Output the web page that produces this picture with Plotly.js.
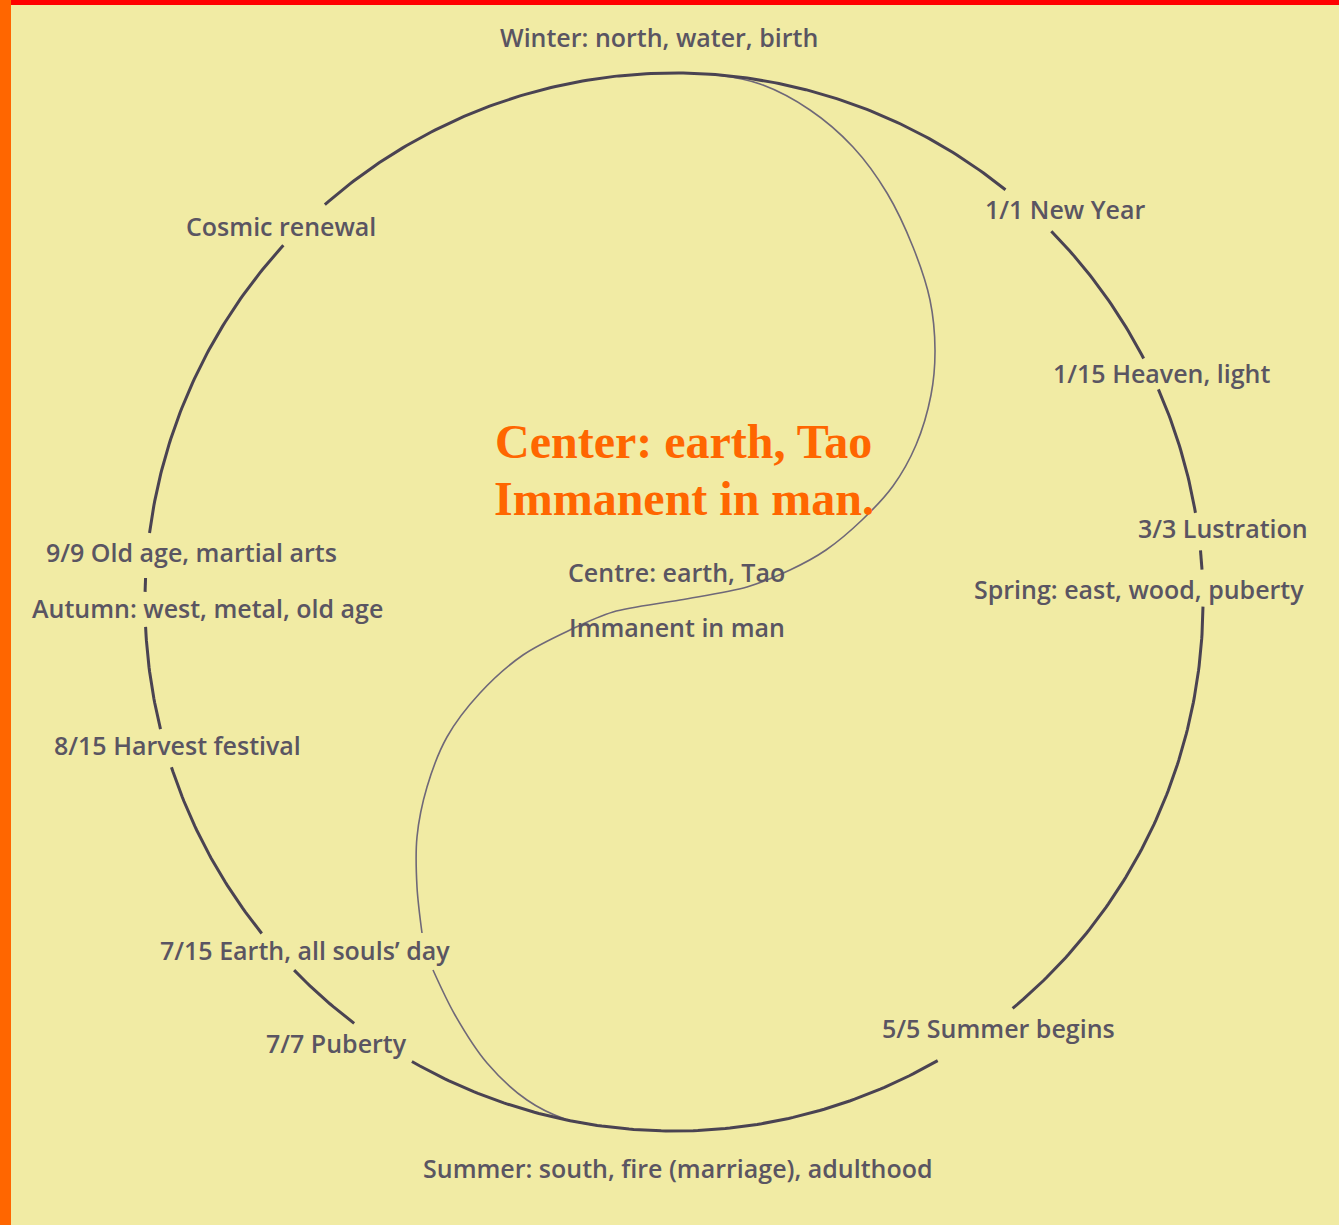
<!DOCTYPE html>
<html>
<head>
<meta charset="utf-8">
<script src="https://cdn.plot.ly/plotly-3.0.1.min.js"></script>
<style>html,body{margin:0;padding:0;background:#f1eba4;overflow:hidden}</style>
</head>
<body>
<div id="chart" style="width:1344px;height:1225px"></div>
<script>
// ---- DATA ----
// Segments of the outer ring: start/end angle in degrees (0 = east, 90 = north)
const arcStartDeg = [51.2, 44.5, 23.7, 5.6, -0.5, -60.1, -127.2, 218.8, 193.9, 178.9, 172.5];
const arcEndDeg   = [131.3, 27.4, 9.7, 3.5, -50.2, -119.7, -135.9, 198.2, 182.7, 177.4, 137.6];

// Inner S-curve (yin-yang divider), two pieces split by the label "day"
const sCurveUpperX = [695, 717, 760, 810, 853, 887, 913, 930, 935, 931, 916, 893, 862, 826, 790, 747, 680, 613, 570, 523, 480, 447, 427, 417, 417, 422];
const sCurveUpperY = [74, 75, 84, 110, 147, 193, 247, 300, 350, 395, 445, 486, 520, 550, 570, 587, 600, 612, 630, 655, 693, 737, 787, 837, 887, 933];
const sCurveLowerX = [433, 455, 487, 527, 565, 600];
const sCurveLowerY = [970, 1015, 1063, 1100, 1119, 1126];

// Ring labels
const ringLabels = [
  "Winter: north, water, birth",
  "1/1 New Year",
  "1/15 Heaven, light",
  "3/3 Lustration",
  "Spring: east, wood, puberty",
  "5/5 Summer begins",
  "Summer: south, fire (marriage), adulthood",
  "7/7 Puberty",
  "7/15 Earth, all souls\u2019 day",
  "8/15 Harvest festival",
  "Autumn: west, metal, old age",
  "9/9 Old age, martial arts",
  "Cosmic renewal",
  "Centre: earth, Tao",
  "Immanent in man"
];
const centerTitle = ["Center: earth, Tao", "Immanent in man."];

// ---- LAYOUT / GEOMETRY ----
const W = 1344, H = 1225;
const ring = {cx: 674, cy: 602, r: 529};
const labelPos = [
  [659, 37], [1065, 209], [1161, 373], [1223, 528], [1139, 589],
  [998, 1028], [678, 1168], [336, 1043], [305, 950], [177, 745],
  [207, 608], [191, 552], [281, 226], [676, 572], [677, 627]
];
const titlePos = [[683, 441], [684, 498]];

// Build ring path from angles
const ringX = [], ringY = [];
for (let i = 0; i < arcStartDeg.length; i++) {
  const a0 = arcStartDeg[i], a1 = arcEndDeg[i];
  const n = Math.max(2, Math.ceil(Math.abs(a1 - a0) / 0.5));
  for (let k = 0; k <= n; k++) {
    const t = (a0 + (a1 - a0) * k / n) * Math.PI / 180;
    ringX.push(ring.cx + ring.r * Math.cos(t));
    ringY.push(ring.cy - ring.r * Math.sin(t));
  }
  ringX.push(null); ringY.push(null);
}

const sLine = {color: '#6f6878', width: 1.6, shape: 'spline', smoothing: 0.9};
const traces = [
  {x: sCurveUpperX, y: sCurveUpperY, mode: 'lines', line: sLine, hoverinfo: 'skip'},
  {x: sCurveLowerX, y: sCurveLowerY, mode: 'lines', line: sLine, hoverinfo: 'skip'},
  {x: ringX, y: ringY, mode: 'lines', line: {color: '#4a4352', width: 3}, hoverinfo: 'skip', connectgaps: false}
];

const annotations = ringLabels.map((t, i) => ({
  x: labelPos[i][0], y: labelPos[i][1], xref: 'x', yref: 'y',
  text: t, showarrow: false, xanchor: 'center', yanchor: 'middle',
  font: {family: '"Open Sans", Lato, sans-serif', size: 25, weight: 600, color: '#5a5562'}
}));
centerTitle.forEach((t, i) => annotations.push({
  x: titlePos[i][0], y: titlePos[i][1], xref: 'x', yref: 'y',
  text: '<b>' + t + '</b>', showarrow: false, xanchor: 'center', yanchor: 'middle',
  font: {family: '"Liberation Serif", "Times New Roman", serif', size: 48, color: '#ff6600'}
}));

const layout = {
  width: W, height: H,
  margin: {l: 0, r: 0, t: 0, b: 0, pad: 0},
  paper_bgcolor: '#f1eba4', plot_bgcolor: '#f1eba4',
  showlegend: false,
  xaxis: {range: [0, W], visible: false, fixedrange: true},
  yaxis: {range: [H, 0], visible: false, fixedrange: true},
  annotations: annotations,
  shapes: [
    {type: 'rect', xref: 'paper', yref: 'paper', x0: 0, x1: 1, y0: 1 - 5 / H, y1: 1, fillcolor: '#ff0000', line: {width: 0}, layer: 'above'},
    {type: 'rect', xref: 'paper', yref: 'paper', x0: 0, x1: 11 / W, y0: 0, y1: 1, fillcolor: '#ff6600', line: {width: 0}, layer: 'above'},
    {type: 'rect', xref: 'paper', yref: 'paper', x0: 1339 / W, x1: 1, y0: 0, y1: 1, fillcolor: '#ffffff', line: {width: 0}, layer: 'above'}
  ]
};

Plotly.newPlot('chart', traces, layout, {displayModeBar: false, staticPlot: true});
</script>
</body>
</html>
